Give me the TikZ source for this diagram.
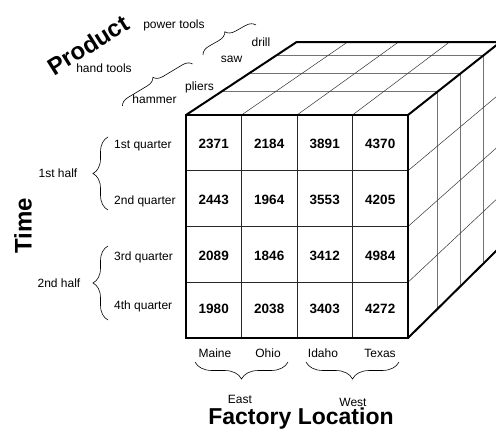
\documentclass[tikz,border=0pt]{standalone}
\usepackage{fontspec}
\setmainfont{Liberation Sans}
\usetikzlibrary{calc}
\usetikzlibrary{decorations.pathreplacing}

\begin{document}
\begin{tikzpicture}[x=1pt,y=-1pt,
  cell/.style={font=\fontsize{13.5}{15}\selectfont\bfseries},
  lbl/.style={font=\fontsize{12}{14}\selectfont,inner sep=1pt},
  bigtitle/.style={font=\fontsize{24}{28}\selectfont\bfseries,inner sep=0pt},
  edge/.style={line width=2pt},
  grid/.style={black!85,line width=0.8pt},
  layer/.style={black!55,line width=0.9pt},
  depth/.style={black!80,line width=0.5pt},
  brc/.style={decorate,decoration={brace,amplitude=#1},line width=0.6pt}]
\clip (0,0) rectangle (496,436);

% front face corners and vanishing point
\coordinate (A) at (186,115);
\coordinate (B) at (408,115);
\coordinate (C) at (408,338);
\coordinate (D) at (186,338);
\coordinate (V) at (1535,-775);

% front grid
\foreach \x in {241.5,297,352.5} \draw [grid] (\x,115) -- (\x,338);
\foreach \y in {170.75,226.5,282.25} \draw [grid] (186,\y) -- (408,\y);

% top and right faces
\foreach \t in {0.0265,0.0465,0.067} {
  \draw [layer] ($(A)!\t!(V)$) -- ($(B)!\t!(V)$);
  \draw [layer] ($(B)!\t!(V)$) -- ($(C)!\t!(V)$);
}
\foreach \x in {241.5,297,352.5} \draw [depth] (\x,115) -- ($(\x,115)!0.082!(V)$);
\foreach \y in {170.75,226.5,282.25} \draw [depth] (408,\y) -- ($(408,\y)!0.082!(V)$);

% outline
\draw [edge] (A) rectangle (C);
\draw [edge] (A) -- ($(A)!0.082!(V)$) -- ($(B)!0.082!(V)$) -- ($(C)!0.082!(V)$) -- (C);
\draw [edge] (B) -- ($(B)!0.082!(V)$);

% sales figures
\foreach \y/\a/\b/\c/\d [count=\r] in {144/2371/2184/3891/4370,
    199.5/2443/1964/3553/4205, 255.5/2089/1846/3412/4984, 309/1980/2038/3403/4272} {
  \node [cell] (v\r a) at (213.75,\y) {\a};
  \node [cell] (v\r b) at (269.25,\y) {\b};
  \node [cell] (v\r c) at (324.75,\y) {\c};
  \node [cell] (v\r d) at (380.25,\y) {\d};
}

% time
\node [lbl,anchor=west] (q1) at (113,146) {1st quarter};
\node [lbl,anchor=west] (q2) at (113,201.5) {2nd quarter};
\node [lbl,anchor=west] (q3) at (113,257) {3rd quarter};
\node [lbl,anchor=west] (q4) at (113,306.5) {4th quarter};
\draw [brc=15] (108,210) -- (108,137);
\draw [brc=15] (108,320) -- (108,246);
\node [lbl] (h1) at (58,173) {1st half};
\node [lbl] (h2) at (59,283) {2nd half};
\node [bigtitle,rotate=90] (time) at (23,226) {Time};

% location
\node [lbl] (maine) at (215,353) {Maine};
\node [lbl] (ohio) at (268,353) {Ohio};
\node [lbl] (idaho) at (323,353) {Idaho};
\node [lbl] (texas) at (380,353) {Texas};
\draw [brc=17] (288,362) -- (195,362);
\draw [brc=17] (399,362) -- (306,362);
\node [lbl] (east) at (240,399) {East};
\node [lbl] (west) at (353,402) {West};
\node [bigtitle,font=\fontsize{23}{28}\selectfont\bfseries] (loc) at (301,419) {Factory Location};

% product
\node [lbl] (hand) at (104,68) {hand tools};
\node [lbl] (power) at (174,25) {power tools};
\node [lbl] (hammer) at (154.5,99) {hammer};
\node [lbl] (pliers) at (199.5,87) {pliers};
\node [lbl] (saw) at (231.5,59) {saw};
\node [lbl] (drill) at (261,42) {drill};
\draw [brc=9] (122.5,106) -- (192.5,64);
\draw [brc=9.5] (203,55) -- (256,25);
\node [bigtitle,rotate=32] (prod) at (88,45) {Product};
\end{tikzpicture}
\end{document}
